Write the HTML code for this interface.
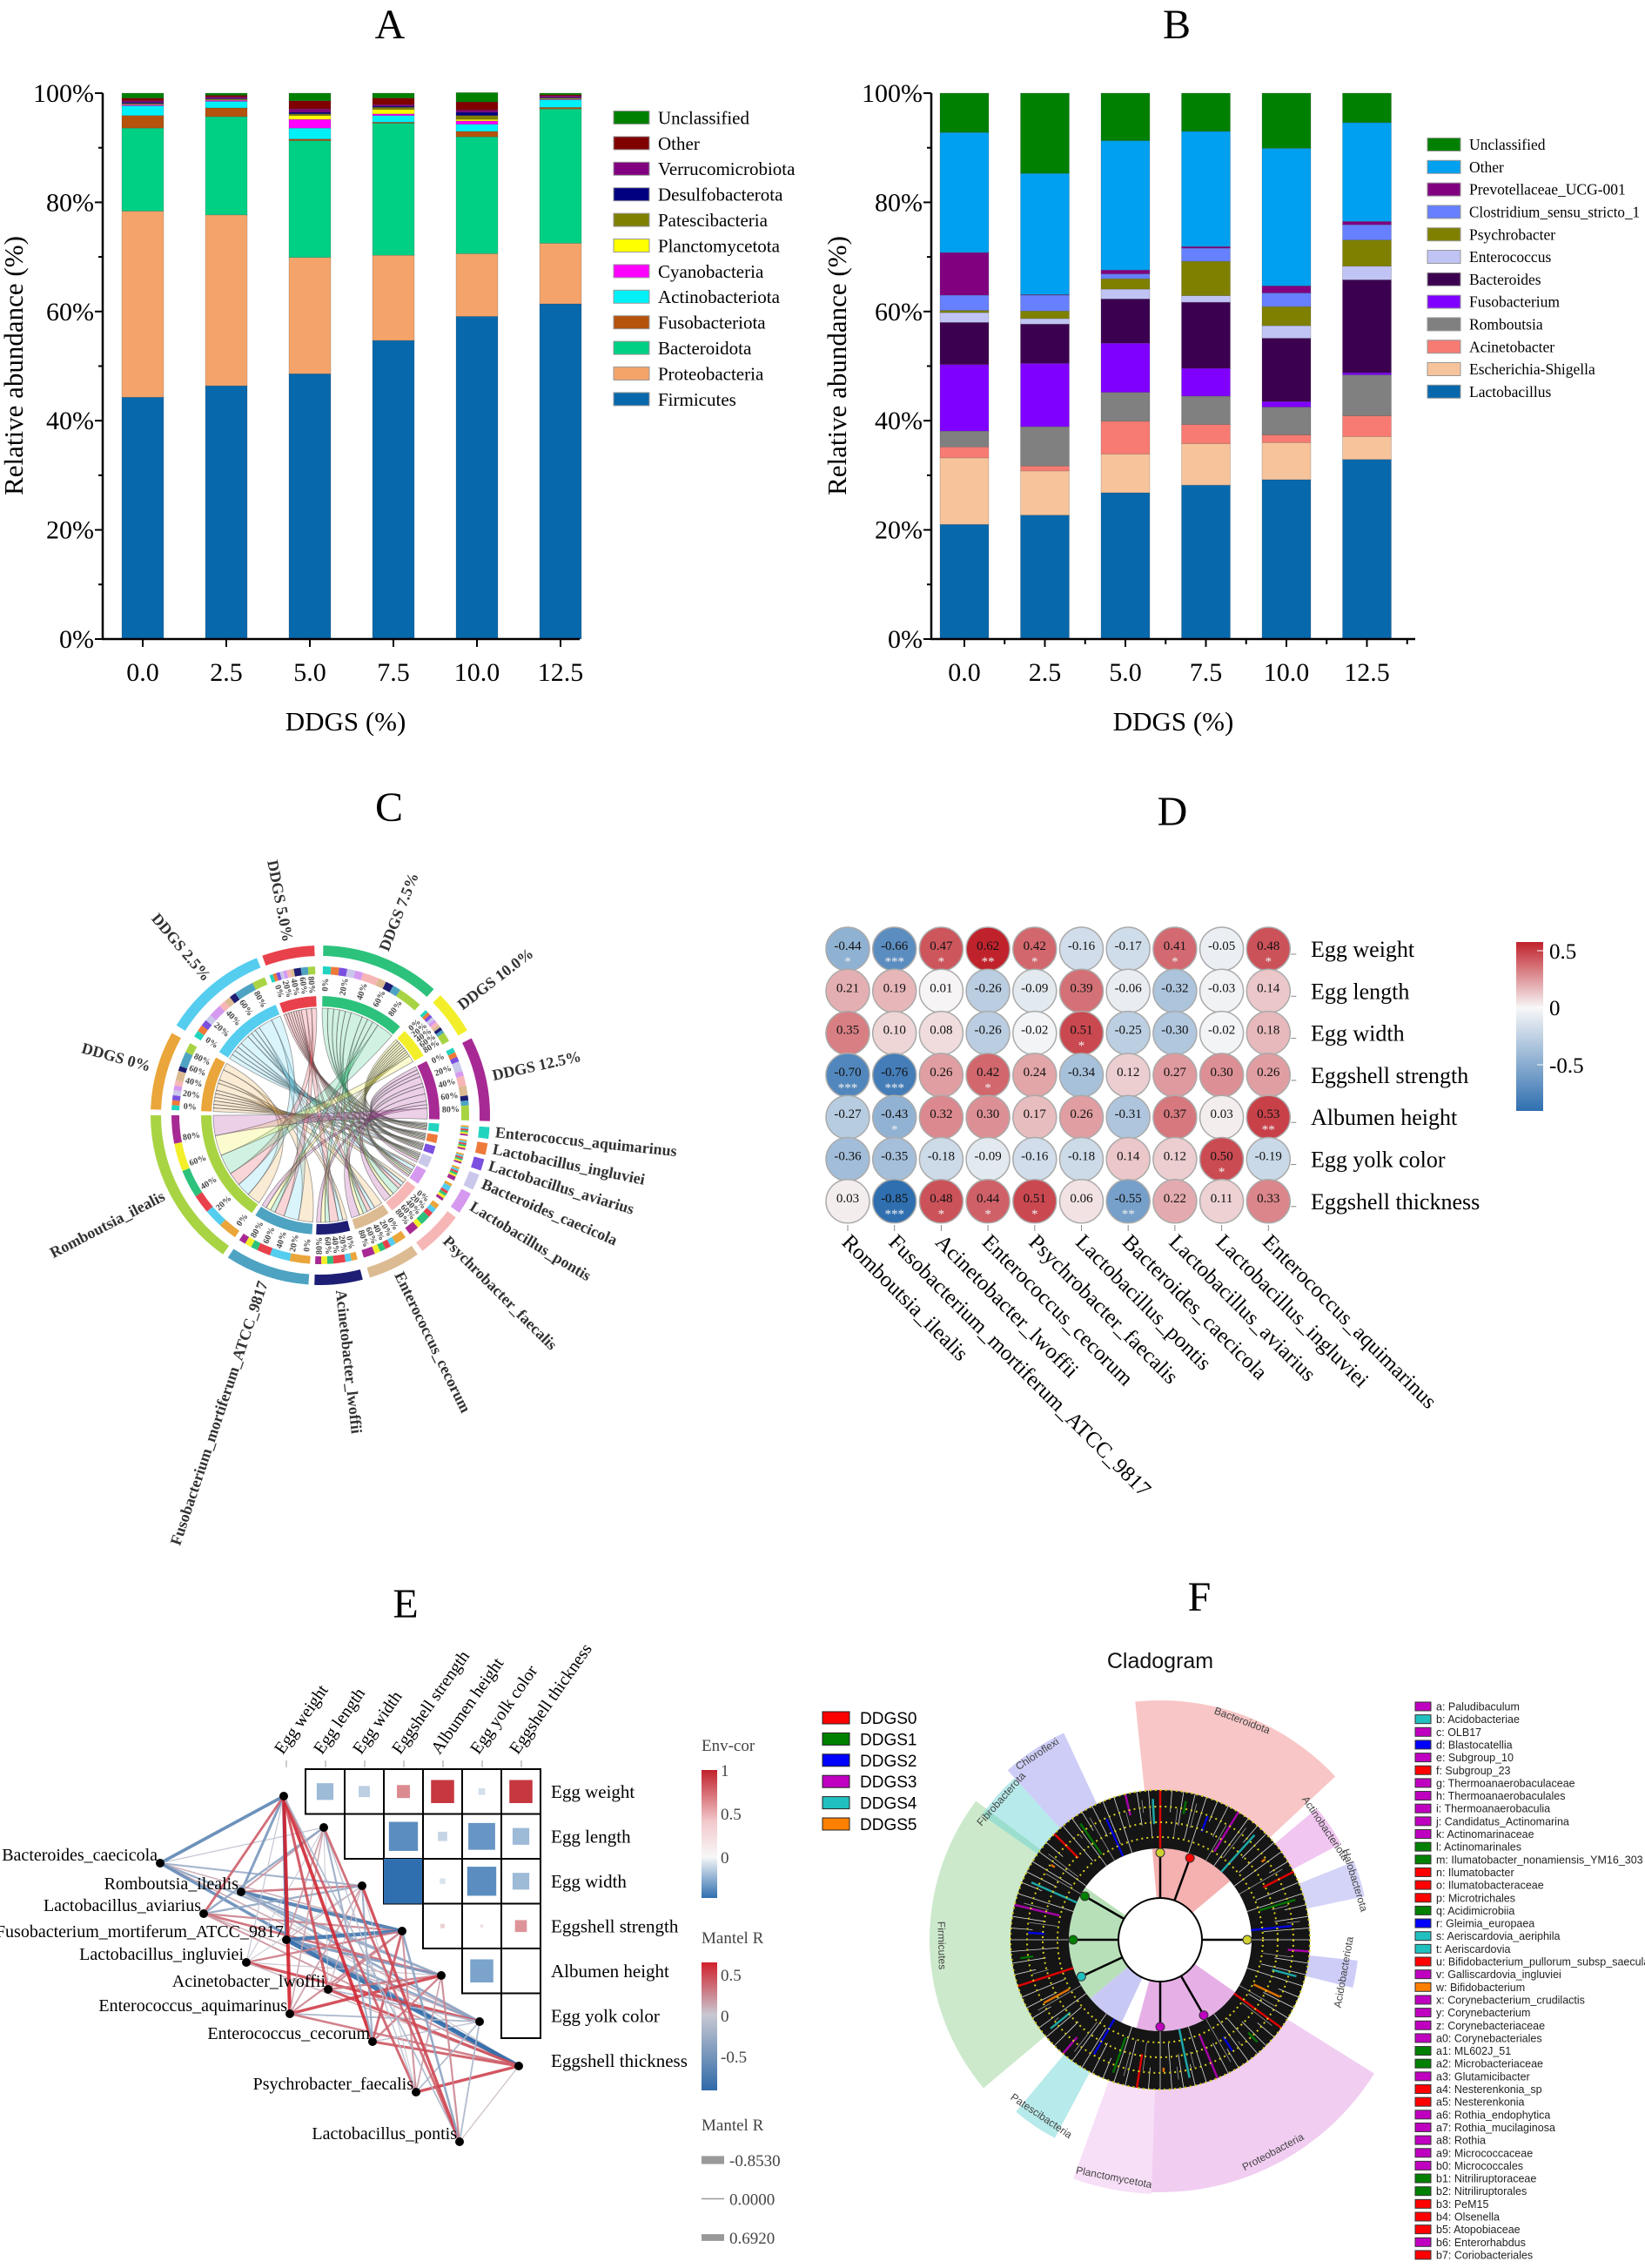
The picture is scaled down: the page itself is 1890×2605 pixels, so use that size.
<!DOCTYPE html>
<html><head><meta charset="utf-8"><style>
html,body{margin:0;padding:0;background:#fff;}
svg{display:block;}
.serif{font-family:"Liberation Serif",serif;}
.sans{font-family:"Liberation Sans",sans-serif;}
</style></head>
<body>
<svg id="fig" xmlns="http://www.w3.org/2000/svg" width="1890" height="2605" viewBox="0 0 1890 2605">
<rect x="0" y="0" width="1890" height="2605" fill="#fff"/>
<defs>
<linearGradient id="gD" x1="0" y1="0" x2="0" y2="1"><stop offset="0" stop-color="#c0222c"/><stop offset="0.39" stop-color="#f7f7f7"/><stop offset="1" stop-color="#2f6fb0"/></linearGradient>
<linearGradient id="gE1" x1="0" y1="0" x2="0" y2="1"><stop offset="0" stop-color="#c0222c"/><stop offset="0.4" stop-color="#f2c8cc"/><stop offset="0.68" stop-color="#f7f7f7"/><stop offset="1" stop-color="#2f6fb0"/></linearGradient>
<linearGradient id="gE2" x1="0" y1="0" x2="0" y2="1"><stop offset="0" stop-color="#d0202c"/><stop offset="0.41" stop-color="#c8c8d2"/><stop offset="1" stop-color="#2f6aa8"/></linearGradient>
</defs>
<g class="serif" font-size="48" text-anchor="middle" fill="#000">
<text x="448" y="44">A</text>
<text x="1352" y="44">B</text>
<text x="447" y="943">C</text>
<text x="1347" y="948">D</text>
<text x="466" y="1858">E</text>
<text x="1378" y="1850">F</text>
</g>
</svg>
<script>
const NS='http://www.w3.org/2000/svg';
const svg=document.getElementById('fig');
function mk(tag,attrs,parent){const el=document.createElementNS(NS,tag);for(const k in attrs)el.setAttribute(k,attrs[k]);(parent||svg).appendChild(el);return el;}

/* ================= Panel A data ================= */
const aCats=['0.0','2.5','5.0','7.5','10.0','12.5'];
const aSeries=['Firmicutes','Proteobacteria','Bacteroidota','Fusobacteriota','Actinobacteriota','Cyanobacteria','Planctomycetota','Patescibacteria','Desulfobacterota','Verrucomicrobiota','Other','Unclassified'];
const aColors=['#0868ac','#f4a46a','#00d084','#b5520c','#00f0f8','#ff00ff','#ffff00','#808000','#000080','#800080','#800000','#008000'];
const aFirmicutes=[44.3,46.4,48.6,54.7,59.1,61.4];
const aProteobacteria=[34.1,31.3,21.3,15.6,11.5,11.1];
const aBacteroidota=[15.2,18.0,21.4,24.2,21.4,24.6];
const aFusobacteriota=[2.3,1.6,0.3,0.2,1.0,0.3];
const aActinobacteriota=[1.8,1.2,2.0,1.2,1.3,1.4];
const aCyanobacteria=[0.2,0.2,1.6,0.3,0.6,0.1];
const aPlanctomycetota=[0.1,0.1,0.7,0.8,0.3,0.1];
const aPatescibacteria=[0.1,0.1,0.3,0.4,0.7,0.1];
const aDesulfobacterota=[0.2,0.1,0.3,0.2,0.6,0.1];
const aVerrucomicrobiota=[0.3,0.3,0.6,0.3,0.4,0.3];
const aOther=[0.5,0.3,1.5,1.2,1.5,0.2];
const aUnclassified=[0.9,0.4,1.4,0.9,1.7,0.3];
const aValues=[aFirmicutes,aProteobacteria,aBacteroidota,aFusobacteriota,aActinobacteriota,aCyanobacteria,aPlanctomycetota,aPatescibacteria,aDesulfobacterota,aVerrucomicrobiota,aOther,aUnclassified];

/* ================= Panel B data ================= */
const bCats=['0.0','2.5','5.0','7.5','10.0','12.5'];
const bSeries=['Lactobacillus','Escherichia-Shigella','Acinetobacter','Romboutsia','Fusobacterium','Bacteroides','Enterococcus','Psychrobacter','Clostridium_sensu_stricto_1','Prevotellaceae_UCG-001','Other','Unclassified'];
const bColors=['#0868ac','#f7c39a','#f77b72','#808080','#8000ff','#3c0050','#c0c4f4','#808000','#6680ff','#800080','#00a0f0','#008000'];
const bLactobacillus=[21.0,22.7,26.8,28.2,29.2,32.9];
const bEscherichia=[12.2,8.1,7.1,7.6,6.8,4.2];
const bAcinetobacter=[2.0,0.9,6.0,3.5,1.4,3.8];
const bRomboutsia=[2.9,7.2,5.3,5.2,5.1,7.5];
const bFusobacterium=[12.2,11.6,9.0,5.1,1.0,0.4];
const bBacteroides=[7.7,7.2,8.1,12.1,11.6,17.0];
const bEnterococcus=[1.8,1.0,1.8,1.2,2.3,2.5];
const bPsychrobacter=[0.4,1.4,1.9,6.3,3.5,4.8];
const bClostridium=[2.8,2.9,0.9,2.4,2.5,2.8];
const bPrevotellaceae=[7.8,0.1,0.7,0.3,1.3,0.6];
const bOther=[22.0,22.2,23.7,21.1,25.2,18.1];
const bUnclassified=[7.2,14.7,8.7,7.0,10.1,5.4];
const bValues=[bLactobacillus,bEscherichia,bAcinetobacter,bRomboutsia,bFusobacterium,bBacteroides,bEnterococcus,bPsychrobacter,bClostridium,bPrevotellaceae,bOther,bUnclassified];
const yTicks=['0%','20%','40%','60%','80%','100%'];

function stackedChart(p){
  const g=mk('g',{});
  
  
  const yTop=107,yBot=734;
  const yS=v=>yBot-v/100*(yBot-yTop);
  const xS=i=>p.x0+p.first+i*p.step;
  p.cats.forEach((c,i)=>{
    let acc=0;
    p.values.forEach((arr,s)=>{
      const v=arr[i];
      const r=mk('rect',{x:xS(i)-p.bw/2,y:yS(acc+v),width:p.bw,height:Math.max(0,yS(acc)-yS(acc+v)),fill:p.colors[s],stroke:'rgba(60,60,60,0.35)','stroke-width':0.6},g);
      
      
      acc+=v;
    });
  });
  const ya=mk('line',{x1:p.x0,y1:yTop,x2:p.x0,y2:yBot+1,stroke:'#000','stroke-width':2.5},g);
  
  
  const xa=mk('line',{x1:p.x0-1,y1:yBot,x2:p.xEnd,y2:yBot,stroke:'#000','stroke-width':2.5},g);
  
  
  for(let k=0;k<=10;k++){
    const y=yS(k*10);
    const t=mk('line',{x1:p.x0-(k%2==0?9:5),y1:y,x2:p.x0,y2:y,stroke:'#000','stroke-width':2},g);
    
    
  }
  yTicks.forEach((lab,k)=>{
    const t=mk('text',{x:p.x0-10,y:yS(k*20)+10,'text-anchor':'end','font-size':30,class:'serif'},g);
    t.textContent=lab;
    
    
  });
  p.cats.forEach((c,i)=>{
    const tk=mk('line',{x1:xS(i),y1:yBot,x2:xS(i),y2:yBot+9,stroke:'#000','stroke-width':2},g);
    
    
    if(p.minor){const mt=mk('line',{x1:xS(i)+p.step/2,y1:yBot,x2:xS(i)+p.step/2,y2:yBot+6,stroke:'#000','stroke-width':2},g);
      
      }
    const t=mk('text',{x:xS(i),y:782,'text-anchor':'middle','font-size':30,class:'serif'},g);
    t.textContent=c;
    
    
  });
  const yt=mk('text',{x:0,y:0,transform:`translate(${p.yTitleX},420) rotate(-90)`,'text-anchor':'middle','font-size':31,class:'serif'},g);
  yt.textContent='Relative abundance (%)';
  
  
  const xt=mk('text',{x:p.xTitleX,y:839,'text-anchor':'middle','font-size':31,class:'serif'},g);
  xt.textContent='DDGS (%)';
  
  
  const n=p.series.length;
  for(let k=0;k<n;k++){
    const s=n-1-k;
    const cy=p.legY+k*p.legStep;
    const sw=mk('rect',{x:p.legX,y:cy-p.swH/2,width:p.swW,height:p.swH,fill:p.colors[s],stroke:'#999','stroke-width':1},g);
    
    
    const t=mk('text',{x:p.legX+p.swW+10,y:cy+p.legFont*0.35,'font-size':p.legFont,class:'serif'},g);
    t.textContent=p.series[s];
    
    
    if(p.maxW){const w=t.getComputedTextLength();if(w>p.maxW){t.setAttribute('textLength',p.maxW);t.setAttribute('lengthAdjust','spacingAndGlyphs');}}
  }
}
stackedChart({name:'panel-a-chart',cats:aCats,values:aValues,colors:aColors,series:aSeries,x0:118,first:46,step:96,bw:48,xEnd:666,minor:false,yTitleX:26,xTitleX:397,legX:705,legY:135,legStep:29.4,swW:41,swH:15,legFont:21});
stackedChart({name:'panel-b-chart',cats:bCats,values:bValues,colors:bColors,series:bSeries,x0:1070,first:38,step:92.5,bw:56,xEnd:1626,minor:true,yTitleX:972,xTitleX:1348,legX:1640,legY:166,legStep:25.8,swW:38,swH:15,legFont:17.5,maxW:196});

/* ================= Panel C chord diagram ================= */
const cNames=['DDGS 5.0%','DDGS 7.5%','DDGS 10.0%','DDGS 12.5%','Enterococcus_aquimarinus','Lactobacillus_ingluviei','Lactobacillus_aviarius','Bacteroides_caecicola','Lactobacillus_pontis','Psychrobacter_faecalis','Enterococcus_cecorum','Acinetobacter_lwoffii','Fusobacterium_mortiferum_ATCC_9817','Romboutsia_ilealis','DDGS 0%','DDGS 2.5%'];
const cColors=['#e8414b','#2cc27c','#f2ef2a','#a72a94','#22d4c0','#ee7a3a','#7b4fe0','#c9c8ea','#d59af0','#f7b6b6','#dcbb93','#1d1e74','#4ea3c2','#a8d444','#eaa63a','#55cdef'];
const cStart=[-20,1,45,63,94,99.5,105,110.5,117.5,127,145,165.5,184,215,272,302];
const cEnd=[-2,42,60,92,98,103.5,109,116,125,143,163,182,213,270,299,338];
const cDdgsIdx=[14,15,0,1,2,3];
const cSpeciesIdx=[4,5,6,7,8,9,10,11,12,13];
const cLinks=[[1,1,1,1,1,1],[1,1,1,1,1,1],[1,1,1,1,1,1],[1,1,1,1,1,2],[1,2,1,1,1,1],[1,1,1,2,1,2],[2,1,1,1,1,2],[1,1,2,1,1,1],[3,3,2,1,1,1],[2,2,2,3,3,3]];
const CX=368,CY=1281;
const rad=d=>d*Math.PI/180;
const pt=(r,a,cx,cy)=>[(cx)+r*Math.sin(rad(a)),(cy)-r*Math.cos(rad(a))];
function arcPath(r0,r1,a0,a1,cx,cy){
  const large=(a1-a0)>180?1:0;
  const p0=pt(r1,a0,cx,cy),p1=pt(r1,a1,cx,cy),p2=pt(r0,a1,cx,cy),p3=pt(r0,a0,cx,cy);
  return `M${p0[0]},${p0[1]} A${r1},${r1} 0 ${large} 1 ${p1[0]},${p1[1]} L${p2[0]},${p2[1]} A${r0},${r0} 0 ${large} 0 ${p3[0]},${p3[1]} Z`;
}
const gC=mk('g',{});


const sub={};
cNames.forEach((n,i)=>sub[i]=cStart[i]);
const ddgsTot=cDdgsIdx.map((d,j)=>cLinks.reduce((s,row)=>s+row[j],0));
cSpeciesIdx.forEach((si,k)=>{
  const row=cLinks[k];const tot=row.reduce((a,b)=>a+b,0);
  row.forEach((w,j)=>{
    const di=cDdgsIdx[j];
    const a1=sub[si],a2=a1+(cEnd[si]-cStart[si])*w/tot;sub[si]=a2;
    const b1=sub[di],b2=b1+(cEnd[di]-cStart[di])*w/ddgsTot[j];sub[di]=b2;
    const r=123;
    const P=(a)=>pt(r,a,CX,CY);
    const [x1,y1]=P(a1),[x2,y2]=P(a2),[x3,y3]=P(b1),[x4,y4]=P(b2);
    const d=`M${x1},${y1} A${r},${r} 0 0 1 ${x2},${y2} Q${CX},${CY} ${x3},${y3} A${r},${r} 0 0 1 ${x4},${y4} Q${CX},${CY} ${x1},${y1} Z`;
    const rb=mk('path',{d:d,fill:cColors[di],'fill-opacity':0.22,stroke:'#555','stroke-opacity':0.6,'stroke-width':0.8},gC);
    
    
  });
});
cNames.forEach((n,i)=>{
  const a0=cStart[i],a1=cEnd[i];
  const inner=mk('path',{d:arcPath(125,137,a0,a1,CX,CY),fill:cColors[i]},gC);
  
  
  const outer=mk('path',{d:arcPath(183,195,a0,a1,CX,CY),fill:cColors[i]},gC);
  
  
  const isD=cDdgsIdx.indexOf(i)>=0;
  const parts=isD?cSpeciesIdx:cDdgsIdx;
  const wts=isD?cLinks.map(r=>r[cDdgsIdx.indexOf(i)]):cLinks[cSpeciesIdx.indexOf(i)];
  const tot=wts.reduce((a,b)=>a+b,0);let s=a0;
  parts.forEach((pi,k)=>{const e=s+(a1-a0)*wts[k]/tot;
    const seg=mk('path',{d:arcPath(162,171,s,e,CX,CY),fill:cColors[pi]},gC);
    
    
    s=e;});
  const mid=(a0+a1)/2;const am=((mid%360)+360)%360;
  const [lx,ly]=pt(isD?203:202,mid,CX,CY);
  let rot,anchor;
  if(am<180){rot=am-90;anchor='start';}else{rot=am+90;anchor='end';}
  const t=mk('text',{x:lx,y:ly,transform:`rotate(${rot},${lx},${ly})`,'text-anchor':anchor,'dominant-baseline':'middle','font-size':18,'font-weight':'bold',class:'serif',fill:'#333'},gC);
  t.textContent=n;
  
  
  if(a1-a0>14){
    ['0%','20%','40%','60%','80%'].forEach((pl,k)=>{
      const aa=a0+(a1-a0)*k/5+1.5;const [tx,ty]=pt(150,aa,CX,CY);const amm=((aa%360)+360)%360;
      const rr=amm<180?amm-90:amm+90;
      const tt=mk('text',{x:tx,y:ty,transform:`rotate(${rr},${tx},${ty})`,'text-anchor':'middle','dominant-baseline':'middle','font-size':10,'font-weight':'bold',class:'serif',fill:'#444'},gC);
      tt.textContent=pl;
      
      
    });
  }
});

/* ================= Panel D correlation heatmap ================= */
const dTraits=['Egg weight','Egg length','Egg width','Eggshell strength','Albumen height','Egg yolk color','Eggshell thickness'];
const dSpecies=['Romboutsia_ilealis','Fusobacterium_mortiferum_ATCC_9817','Acinetobacter_lwoffii','Enterococcus_cecorum','Psychrobacter_faecalis','Lactobacillus_pontis','Bacteroides_caecicola','Lactobacillus_aviarius','Lactobacillus_ingluviei','Enterococcus_aquimarinus'];
const dEggWeight=[-0.44,-0.66,0.47,0.62,0.42,-0.16,-0.17,0.41,-0.05,0.48];
const dEggLength=[0.21,0.19,0.01,-0.26,-0.09,0.39,-0.06,-0.32,-0.03,0.14];
const dEggWidth=[0.35,0.10,0.08,-0.26,-0.02,0.51,-0.25,-0.30,-0.02,0.18];
const dShellStrength=[-0.70,-0.76,0.26,0.42,0.24,-0.34,0.12,0.27,0.30,0.26];
const dAlbumen=[-0.27,-0.43,0.32,0.30,0.17,0.26,-0.31,0.37,0.03,0.53];
const dYolk=[-0.36,-0.35,-0.18,-0.09,-0.16,-0.18,0.14,0.12,0.50,-0.19];
const dShellThick=[0.03,-0.85,0.48,0.44,0.51,0.06,-0.55,0.22,0.11,0.33];
const dValues=[dEggWeight,dEggLength,dEggWidth,dShellStrength,dAlbumen,dYolk,dShellThick];
const dStars=[['*','***','*','**','*','','','*','','*'],['','','','','','','','','',''],['','','','','','*','','','',''],['***','***','','*','','','','','',''],['','*','','','','','','','','**'],['','','','','','','','','*',''],['','***','*','*','*','','**','','','']];
function divColor(v){
  const w=[247,247,247],r=[192,34,44],b=[47,111,176];
  let t,c;if(v>=0){t=Math.min(1,v/0.62);c=r;}else{t=Math.min(1,-v/0.85);c=b;}
  const m=w.map((x,k)=>Math.round(x+(c[k]-x)*t));return `rgb(${m[0]},${m[1]},${m[2]})`;
}
const gD=mk('g',{class:'serif'});


const dx0=974,dy0=1090,dsx=53.7,dsy=48.3;
dValues.forEach((row,i)=>{
  row.forEach((v,j)=>{
    const x=dx0+j*dsx,y=dy0+i*dsy;
    const c=mk('circle',{cx:x,cy:y,r:25,fill:divColor(v),stroke:'#aaa','stroke-width':1.5},gD);
    
    
    const t=mk('text',{x:x,y:y+1,'text-anchor':'middle','font-size':15,fill:'#111'},gD);
    t.textContent=v.toFixed(2);
    
    
    if(dStars[i][j]){const s=mk('text',{x:x,y:y+19,'text-anchor':'middle','font-size':15,fill:'#eee'},gD);
      s.textContent=dStars[i][j];
      
      }
  });
  const tk=mk('line',{x1:dx0+9*dsx+26,y1:dy0+i*dsy+6,x2:dx0+9*dsx+32,y2:dy0+i*dsy+6,stroke:'#888'},gD);
  
  
  const lt=mk('text',{x:1506,y:dy0+i*dsy+9,'font-size':26},gD);
  lt.textContent=dTraits[i];
  
  
});
dSpecies.forEach((s,j)=>{
  const x=dx0+j*dsx;
  const tk=mk('line',{x1:x,y1:1407,x2:x,y2:1414,stroke:'#888'},gD);
  
  
  const t=mk('text',{x:x-8,y:1428,transform:`rotate(45,${x-8},1428)`,'font-size':25},gD);
  t.textContent=s;
  
  
});
const dcb=mk('rect',{x:1742,y:1082,width:31,height:194,fill:'url(#gD)'},gD);


[['0.5',1092],['0',1157],['-0.5',1223]].forEach(([l,y])=>{
  const tk=mk('line',{x1:1766,y1:y,x2:1773,y2:y,stroke:'#fff'},gD);
  
  
  const t=mk('text',{x:1780,y:y+9,'font-size':25},gD);
  t.textContent=l;
  
  
});

/* ================= Panel E Mantel network ================= */
const eEnv=['Egg weight','Egg length','Egg width','Eggshell strength','Albumen height','Egg yolk color','Eggshell thickness'];
const eEnvCor=[[0,-0.45,-0.30,0.35,0.62,-0.18,0.62],[0,0,0.02,-0.78,-0.25,-0.72,-0.45],[0,0,0,-1.0,-0.15,-0.78,-0.45],[0,0,0,0,0.12,0.08,0.32],[0,0,0,0,0,-0.62,0],[0,0,0,0,0,0,0]];
const eSpecies=['Bacteroides_caecicola','Romboutsia_ilealis','Lactobacillus_aviarius','Fusobacterium_mortiferum_ATCC_9817','Lactobacillus_ingluviei','Acinetobacter_lwoffii','Enterococcus_aquimarinus','Enterococcus_cecorum','Psychrobacter_faecalis','Lactobacillus_pontis'];
const eMantelBacteroides=[-0.60,-0.06,-0.25,0.12,-0.31,0.14,-0.55];
const eMantelRomboutsia=[-0.44,0.21,0.35,-0.70,-0.27,-0.36,0.03];
const eMantelAviarius=[0.41,-0.32,-0.30,0.27,0.37,0.12,0.22];
const eMantelFuso=[-0.66,0.19,0.10,-0.76,-0.43,-0.35,-0.85];
const eMantelIngluviei=[-0.05,-0.03,-0.02,0.30,0.03,0.50,0.11];
const eMantelAcineto=[0.47,0.01,0.08,0.26,0.32,-0.18,0.48];
const eMantelAquimarinus=[0.69,0.14,0.18,0.26,0.53,-0.19,0.33];
const eMantelCecorum=[0.62,-0.26,-0.26,0.42,0.30,-0.09,0.44];
const eMantelPsychro=[0.42,-0.09,-0.02,0.24,0.17,-0.16,0.51];
const eMantelPontis=[-0.16,0.39,0.51,-0.34,0.26,-0.18,0.06];
const eMantel=[eMantelBacteroides,eMantelRomboutsia,eMantelAviarius,eMantelFuso,eMantelIngluviei,eMantelAcineto,eMantelAquimarinus,eMantelCecorum,eMantelPsychro,eMantelPontis];
const eEnvNodeX=[326,372,416,462,507,551,596],eEnvNodeY=[2063,2099,2166,2218,2269,2322,2373];
const eSpNodeX=[184,277,234,329,283,377,333,428,478,528],eSpNodeY=[2140,2173,2198,2228,2254,2285,2313,2345,2403,2460];
function mantelColor(v){
  const m=[200,200,210],r=[208,32,44],b=[47,106,168];
  let t,c;if(v>=0){t=Math.min(1,v/0.65);c=r;}else{t=Math.min(1,-v/0.85);c=b;}
  const o=m.map((x,k)=>Math.round(x+(c[k]-x)*t));return `rgb(${o[0]},${o[1]},${o[2]})`;
}
const gE=mk('g',{class:'serif'});


const ex0=306,ecw=45,ey0=2032,erh=51.5;
eEnvCor.forEach((row,i)=>{
  row.forEach((v,j)=>{
    if(j<=i)return;
    const x=ex0+ecw*j,y=ey0+erh*i;
    const c=mk('rect',{x:x,y:y,width:ecw,height:erh,fill:'none',stroke:'#000','stroke-width':2},gE);
    
    
    const a=Math.abs(v);
    if(a>0.01){
      const w=a>=0.95?ecw:ecw*a*0.95,h=a>=0.95?erh:ecw*a*0.95;
      const col=v>=0?divColor(v*0.9):divColor(v*0.85);
      const s=mk('rect',{x:x+(ecw-w)/2,y:y+(erh-h)/2,width:w,height:h,fill:col},gE);
      
      
    }
  });
});
eEnv.forEach((n,j)=>{
  const cx=329+ecw*j;
  const tk=mk('line',{x1:cx,y1:2022,x2:cx,y2:2030,stroke:'#999'},gE);
  
  
  const t=mk('text',{x:cx-4,y:2016,transform:`rotate(-55,${cx-4},2016)`,'font-size':20},gE);
  t.textContent=n;
  
  
  const rt=mk('text',{x:633,y:ey0+erh*j+erh/2+7,'font-size':21},gE);
  rt.textContent=n;
  
  
});
eSpecies.forEach((s,i)=>{
  eMantel[i].forEach((v,j)=>{
    const l=mk('line',{x1:eSpNodeX[i],y1:eSpNodeY[i],x2:eEnvNodeX[j],y2:eEnvNodeY[j],stroke:mantelColor(v),'stroke-width':1+4.5*Math.abs(v),'stroke-opacity':0.9},gE);
    
    
  });
});
eEnvNodeX.forEach((x,j)=>{
  const c=mk('circle',{cx:x,cy:eEnvNodeY[j],r:5,fill:'#000'},gE);
  
  
});
eSpecies.forEach((s,i)=>{
  const c=mk('circle',{cx:eSpNodeX[i],cy:eSpNodeY[i],r:5,fill:'#000'},gE);
  
  
  const t=mk('text',{x:eSpNodeX[i]-3,y:eSpNodeY[i]-3,'text-anchor':'end','font-size':20},gE);
  t.textContent=s;
  
  
});
function etext(x,y,s,sz,name){const t=mk('text',{x:x,y:y,'font-size':sz,fill:'#444'},gE);t.textContent=s;
  
  return t;}
etext(806,2011,'Env-cor',19,'legend-title');
const cb1=mk('rect',{x:806,y:2033,width:18,height:147,fill:'url(#gE1)'},gE);


etext(828,2040,'1',19,'color-bar-label');etext(828,2090,'0.5',19,'color-bar-label');etext(828,2140,'0',19,'color-bar-label');
etext(806,2232,'Mantel R',19,'legend-title');
const cb2=mk('rect',{x:806,y:2254,width:18,height:147,fill:'url(#gE2)'},gE);


etext(828,2275,'0.5',19,'color-bar-label');etext(828,2322,'0',19,'color-bar-label');etext(828,2369,'-0.5',19,'color-bar-label');
etext(806,2447,'Mantel R',19,'legend-title');
const eWidthLabels=['-0.8530','0.0000','0.6920'];
const eWidthVals=[-0.853,0,0.692];
eWidthLabels.forEach((l,k)=>{
  const y=2481+k*44.5;const h=1.5+9*Math.abs(eWidthVals[k]);
  const r=mk('rect',{x:806,y:y-h/2,width:26,height:h,fill:'#999'},gE);
  
  
  etext(838,y+7,l,19,'width-legend-label');
});

/* ================= Panel F cladogram ================= */
const gF=mk('g',{class:'sans'});


const FX=1333,FY=2228;
const ct=mk('text',{x:1333,y:1916,'text-anchor':'middle','font-size':25,fill:'#111'},gF);
ct.textContent='Cladogram';


const fGroups=['DDGS0','DDGS1','DDGS2','DDGS3','DDGS4','DDGS5'];
const fGroupColors=['#ff0000','#008000','#0000ff','#c000c0','#20c0c0','#ff8000'];
fGroups.forEach((g,k)=>{
  const y=1973+k*24.4;
  const r=mk('rect',{x:945,y:y-7,width:31,height:14,fill:fGroupColors[k],stroke:'#222','stroke-width':1},gF);
  
  
  const t=mk('text',{x:988,y:y+7,'font-size':19},gF);
  t.textContent=g;
  
  
});
const fWedgeNames=['Bacteroidota','Firmicutes','Proteobacteria','Planctomycetota','Halobacterota','Chloroflexi','Patescibacteria','Actinobacteriota','Acidobacteriota','Fibrobacterota'];
const fWedgeColors=['#f08080','#8fce8f','#e090e0','#f0b8f0','#a0a0f0','#9090f0','#60d0d0','#e080e0','#9090f0','#60d0d0'];
const fWedgeStart=[-6,230,122,182,68,318,208,50,96,305];
const fWedgeEnd=[47,307,182,200,78,335,220,62,104,318];
const fWedgeR=[275,265,290,292,240,262,258,235,228,250];
fWedgeNames.forEach((n,k)=>{
  const w=mk('path',{d:arcPath(172,fWedgeR[k],fWedgeStart[k],fWedgeEnd[k],FX,FY),fill:fWedgeColors[k],'fill-opacity':0.45},gF);
  
  
  const mid=(fWedgeStart[k]+fWedgeEnd[k])/2;const am=((mid%360)+360)%360;
  const [lx,ly]=pt(fWedgeR[k]-10,mid,FX,FY);
  const rot=(am>90&&am<270)?am+180:am;
  const t=mk('text',{x:lx,y:ly,transform:`rotate(${rot},${lx},${ly})`,'text-anchor':'middle','font-size':12,fill:'#444'},gF);
  t.textContent=n;
  
  
});
[['#f5b0b0',-5,50],['#b8e0b8',230,305],['#e6b0e6',125,195],['#c8c8f4',205,230]].forEach(([c,a0,a1])=>{
  const p=mk('path',{d:arcPath(48,105,a0,a1,FX,FY),fill:c},gF);
  
  
});
const ring=mk('path',{d:arcPath(105,172,0,359.99,FX,FY),fill:'#151515'},gF);


for(let a=0;a<360;a+=1.5){
  const k=Math.round(a/1.5);
  const col=(k%7==0)?fGroupColors[k%6]:(k%3==0?'#ffffff':(k%5==0?'#b0b0b0':null));
  if(!col)continue;
  const r0=105+(k%4)*14,r1=172-(k%3)*10;
  const [x1,y1]=pt(r0,a,FX,FY),[x2,y2]=pt(r1,a,FX,FY);
  const l=mk('line',{x1:x1,y1:y1,x2:x2,y2:y2,stroke:col,'stroke-width':k%7==0?2.5:0.8,'stroke-opacity':0.85},gF);
  
  
}
[118,135,153,172].forEach(r=>{
  const c=mk('circle',{cx:FX,cy:FY,r:r,fill:'none',stroke:'#d8d020','stroke-width':2,'stroke-dasharray':'2 4'},gF);
  
  
});
const wc=mk('circle',{cx:FX,cy:FY,r:48,fill:'#fff',stroke:'#000','stroke-width':2},gF);


[[0,'#d0d030'],[90,'#d0d030'],[180,'#c000c0'],[270,'#008000'],[20,'#ff0000'],[245,'#20c0c0'],[150,'#c000c0'],[300,'#008000']].forEach(([a,c])=>{
  const [x1,y1]=pt(48,a,FX,FY),[x2,y2]=pt(100,a,FX,FY);
  const l=mk('line',{x1:x1,y1:y1,x2:x2,y2:y2,stroke:'#000','stroke-width':2.5},gF);
  
  
  const n=mk('circle',{cx:x2,cy:y2,r:5,fill:c,stroke:'#333'},gF);
  
  
});
const fTaxa=['a: Paludibaculum','b: Acidobacteriae','c: OLB17','d: Blastocatellia','e: Subgroup_10','f: Subgroup_23','g: Thermoanaerobaculaceae','h: Thermoanaerobaculales','i: Thermoanaerobaculia','j: Candidatus_Actinomarina','k: Actinomarinaceae','l: Actinomarinales','m: Ilumatobacter_nonamiensis_YM16_303','n: Ilumatobacter','o: Ilumatobacteraceae','p: Microtrichales','q: Acidimicrobiia','r: Gleimia_europaea','s: Aeriscardovia_aeriphila','t: Aeriscardovia','u: Bifidobacterium_pullorum_subsp_saeculare','v: Galliscardovia_ingluviei','w: Bifidobacterium','x: Corynebacterium_crudilactis','y: Corynebacterium','z: Corynebacteriaceae','a0: Corynebacteriales','a1: ML602J_51','a2: Microbacteriaceae','a3: Glutamicibacter','a4: Nesterenkonia_sp','a5: Nesterenkonia','a6: Rothia_endophytica','a7: Rothia_mucilaginosa','a8: Rothia','a9: Micrococcaceae','b0: Micrococcales','b1: Nitriliruptoraceae','b2: Nitriliruptorales','b3: PeM15','b4: Olsenella','b5: Atopobiaceae','b6: Enterorhabdus','b7: Coriobacteriales'];
const fTaxaGroup=[3,4,3,2,3,0,3,3,3,3,3,1,1,0,0,0,1,2,4,4,0,3,5,3,3,3,3,1,1,3,0,0,3,3,3,3,3,1,1,0,0,0,3,0];
fTaxa.forEach((n,k)=>{
  const y=1960+k*14.65;
  const r=mk('rect',{x:1626,y:y-5,width:18,height:10,fill:fGroupColors[fTaxaGroup[k]],stroke:'#333','stroke-width':1},gF);
  
  
  const t=mk('text',{x:1650,y:y+4.5,'font-size':12.5,fill:'#222'},gF);
  t.textContent=n;
  
  
});
</script>
</body></html>
